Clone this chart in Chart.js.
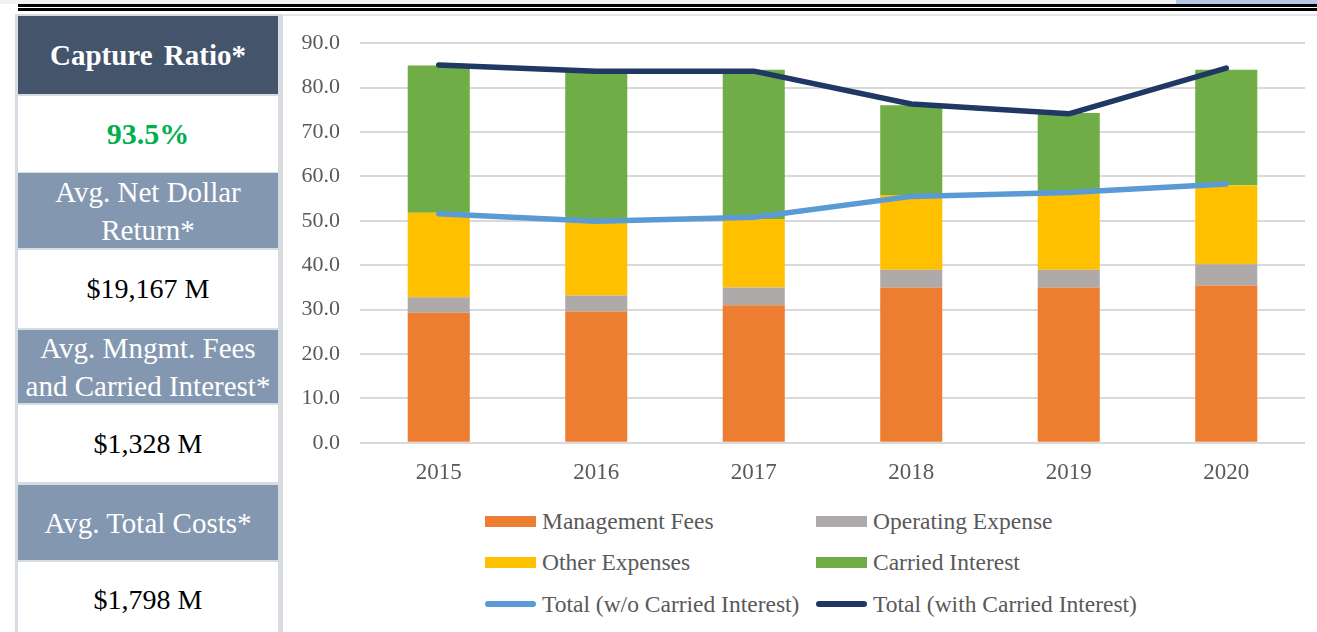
<!DOCTYPE html>
<html lang="en">
<head>
  <meta charset="UTF-8">
  <title>Capture Ratio</title>
  <script src="https://cdn.jsdelivr.net/npm/chart.js"></script>
  <style>
    body { margin: 0; width: 1317px; height: 632px; overflow: hidden; background: #fff; font-family: "Liberation Serif", "Times New Roman", serif; position: relative; }
    .topgrey { position: absolute; left: 0; top: 0; width: 1317px; height: 4px; background: #f2f2f2; }
    .topblue { position: absolute; left: 1176px; top: 0; width: 141px; height: 4px; background: #b4c7e7; }
    .rule { position: absolute; left: 18px; width: 1299px; height: 3px; background: #000; }
    .side { position: absolute; left: 15px; top: 14px; width: 263px; height: 618px; background: #d6dce4; border-right: 3px solid #d6dce4; }
    .cell { position: absolute; left: 3px; width: 260px; display: flex; flex-direction: column; align-items: center; justify-content: center; text-align: center; font-size: 29px; line-height: 38px; white-space: nowrap; }
    .dark { background: #44546a; color: #fff; font-weight: bold; word-spacing: 4px; }
    .mid { background: #8497b0; color: #fff; }
    .val { background: #fff; color: #000; font-size: 28px; }
    .green { color: #00b050; font-weight: bold; font-size: 30px; }
    .panel { position: absolute; left: 281px; top: 14px; width: 1036px; height: 618px; border-left: 2px solid #d9d9d9; border-top: 2px solid #e6e6e6; box-sizing: border-box; background: #fff; }
    .chart-box { position: absolute; left: 283px; top: 9.5px; width: 1034px; height: 484.5px; }
    .legend { position: absolute; left: 485px; top: 507.5px; width: 760px; }
    .legend .item { position: absolute; display: flex; align-items: center; font-size: 23.5px; color: #595959; white-space: nowrap; }
    .legend .sw { width: 51px; height: 11px; margin-right: 6px; }
    .legend .ln { width: 51px; height: 5.5px; border-radius: 3px; margin-right: 6px; }
  </style>
</head>
<body>
  <div class="topgrey"></div>
  <div class="topblue"></div>
  <div class="rule" style="top:4px"></div>
  <div class="rule" style="top:8px"></div>

  <div class="side">
    <div class="cell dark" style="top:2px;height:78px">Capture Ratio*</div>
    <div class="cell val green" style="top:82px;height:76px">93.5%</div>
    <div class="cell mid" style="top:159px;height:75px">Avg. Net Dollar<br>Return*</div>
    <div class="cell val" style="top:236px;height:78px">$19,167 M</div>
    <div class="cell mid" style="top:316px;height:73px">Avg. Mngmt. Fees<br>and Carried Interest*</div>
    <div class="cell val" style="top:391px;height:77px">$1,328 M</div>
    <div class="cell mid" style="top:471px;height:75px">Avg. Total Costs*</div>
    <div class="cell val" style="top:548px;height:76px">$1,798 M</div>
  </div>

  <div class="panel"></div>
  <div class="chart-box"><canvas id="costChart"></canvas></div>
  <div class="legend" id="legend"></div>

  <script>
    const years = ['2015', '2016', '2017', '2018', '2019', '2020'];
    const mgmtFees = [29.3, 29.6, 31.0, 35.0, 35.0, 35.4];
    const operatingExpense = [3.5, 3.6, 4.0, 4.0, 4.0, 4.8];
    const otherExpenses = [19.0, 16.8, 15.4, 16.8, 17.6, 17.8];
    const carriedInterest = [33.2, 33.7, 33.6, 20.2, 17.7, 26.0];
    const totalWithoutCarried = [51.6, 49.9, 50.8, 55.5, 56.4, 58.3];
    const totalWithCarried = [85.1, 83.7, 83.7, 76.3, 74.1, 84.4];
    const yTicks = [0, 10, 20, 30, 40, 50, 60, 70, 80, 90];

    const serif = '"Liberation Serif", "Times New Roman", serif';

    const datasets = [
      { type: 'line', label: 'Total (w/o Carried Interest)', data: totalWithoutCarried, stack: 'lineA', borderColor: '#5b9bd5', backgroundColor: '#5b9bd5', borderWidth: 5.5, pointRadius: 0, borderCapStyle: 'round', borderJoinStyle: 'round', tension: 0, order: 1 },
      { type: 'line', label: 'Total (with Carried Interest)', data: totalWithCarried, stack: 'lineB', borderColor: '#203864', backgroundColor: '#203864', borderWidth: 5.5, pointRadius: 0, borderCapStyle: 'round', borderJoinStyle: 'round', tension: 0, order: 0 },
      { label: 'Management Fees', data: mgmtFees, backgroundColor: '#ed7d31', stack: 'bars', order: 2 },
      { label: 'Operating Expense', data: operatingExpense, backgroundColor: '#aeaaaa', stack: 'bars', order: 2 },
      { label: 'Other Expenses', data: otherExpenses, backgroundColor: '#ffc000', stack: 'bars', order: 2 },
      { label: 'Carried Interest', data: carriedInterest, backgroundColor: '#70ad47', stack: 'bars', order: 2 }
    ];

    // note: y tick padding (20) + half label height sets the top gap (~33px), so the canvas box is shifted up instead
    new Chart(document.getElementById('costChart'), {
      type: 'bar',
      data: { labels: years, datasets: datasets },
      options: {
        responsive: true,
        maintainAspectRatio: false,
        animation: false,
        layout: { padding: { top: 0, right: 12, left: 0, bottom: 0 } },
        datasets: { bar: { barPercentage: 0.394, categoryPercentage: 1, borderWidth: 0 } },
        plugins: { legend: { display: false }, tooltip: { enabled: false } },
        scales: {
          x: {
            stacked: true,
            grid: { display: false, drawTicks: false },
            border: { display: false },
            ticks: { color: '#595959', font: { family: serif, size: 23 }, padding: 16 },
            afterFit: s => { s.height = 51.7; }
          },
          y: {
            stacked: true,
            min: 0, max: 90,
            afterBuildTicks: s => { s.ticks = yTicks.map(v => ({ value: v })); },
            grid: { color: '#d9d9d9', lineWidth: 2, drawTicks: false },
            border: { display: false },
            ticks: { color: '#595959', font: { family: serif, size: 22 }, padding: 20, callback: v => v.toFixed(1) },
            afterFit: s => { s.width = 77; }
          }
        }
      }
    });

    // two-column legend like the original
    const legendOrder = [
      ['Management Fees', '#ed7d31', 'box'], ['Operating Expense', '#aeaaaa', 'box'],
      ['Other Expenses', '#ffc000', 'box'], ['Carried Interest', '#70ad47', 'box'],
      ['Total (w/o Carried Interest)', '#5b9bd5', 'line'], ['Total (with Carried Interest)', '#203864', 'line']
    ];
    const legend = document.getElementById('legend');
    legendOrder.forEach((it, i) => {
      const el = document.createElement('div');
      el.className = 'item';
      el.style.left = (i % 2 ? 331 : 0) + 'px';
      el.style.top = (Math.floor(i / 2) * 41.5) + 'px';
      el.innerHTML = '<span class="' + (it[2] === 'box' ? 'sw' : 'ln') + '" style="background:' + it[1] + '"></span>' + it[0];
      legend.appendChild(el);
    });
  </script>
</body>
</html>
